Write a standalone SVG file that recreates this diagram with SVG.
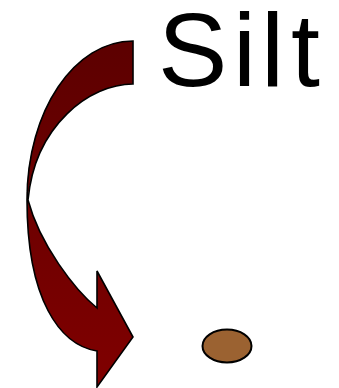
<svg xmlns="http://www.w3.org/2000/svg" width="339" height="388" viewBox="0 0 339 388">
<defs>
<linearGradient id="arrowGrad" gradientUnits="userSpaceOnUse" x1="0" y1="41" x2="0" y2="387">
<stop offset="0" stop-color="#5c0000"/>
<stop offset="1" stop-color="#800000"/>
</linearGradient>
</defs>
<style>
.arrow{fill:url(#arrowGrad);stroke:#000;stroke-width:1.6;stroke-linejoin:miter}
.label{font-family:"Liberation Sans",Arial,sans-serif;font-size:104px;fill:#000}
.grain{fill:#9b6231;stroke:#000;stroke-width:2}
</style>
<g id="connectors">
<path class="arrow" d="M133,41 C75,41 27,110 27,200 C27,300 60,345 97,351 L97,387 L133,337 L97,271 L97,308 C75,290 40,245 28,200 C35,125 90,84 133,84 Z"/>
</g>
<g id="silt-label">
<text class="label" x="158 233 261 291" y="86">Silt</text>
</g>
<g id="silt-grain">
<ellipse class="grain" cx="227" cy="346" rx="24.5" ry="16.5"/>
</g>
</svg>
